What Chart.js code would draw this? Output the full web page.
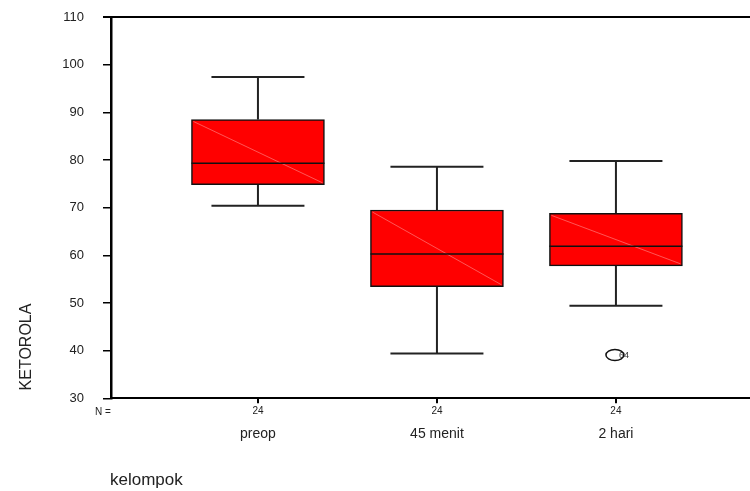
<!DOCTYPE html>
<html>
<head>
<meta charset="utf-8">
<script src="https://cdn.jsdelivr.net/npm/chart.js@4/dist/chart.umd.min.js"></script>
<style>
  body { margin: 0; background: #fff; }
  canvas { display: block; }
</style>
</head>
<body>
<canvas id="boxChart" width="750" height="491"></canvas>
<script>
// data
const categories = ['preop', '45 menit', '2 hari']
const counts = [24, 24, 24]
const whiskerLow = [70.4, 39.4, 49.4]
const q1 = [74.8, 53.4, 57.8]
const median = [79.3, 60.3, 61.9]
const q3 = [88.5, 69.5, 68.8]
const whiskerHigh = [97.4, 78.6, 79.8]
const outlierGroup = [2]
const outlierValue = [39.1]
const outlierCase = ['64']
const yTicks = [30, 40, 50, 60, 70, 80, 90, 100, 110]

const FONT = '"Liberation Sans", Arial, sans-serif'
const BOX_W = 133
const CAP_W = 93

const boxPlot = {
  id: 'boxPlot',
  beforeDatasetsDraw (chart) {
    const { ctx, scales: { x, y } } = chart
    ctx.save()
    ctx.strokeStyle = '#222'
    ctx.lineWidth = 2
    categories.forEach((c, i) => {
      const px = x.getPixelForValue(i + 1)
      ctx.beginPath()
      ctx.moveTo(px, y.getPixelForValue(q3[i]))
      ctx.lineTo(px, y.getPixelForValue(whiskerHigh[i]))
      ctx.moveTo(px, y.getPixelForValue(q1[i]))
      ctx.lineTo(px, y.getPixelForValue(whiskerLow[i]))
      ctx.moveTo(px - CAP_W / 2, y.getPixelForValue(whiskerHigh[i]))
      ctx.lineTo(px + CAP_W / 2, y.getPixelForValue(whiskerHigh[i]))
      ctx.moveTo(px - CAP_W / 2, y.getPixelForValue(whiskerLow[i]))
      ctx.lineTo(px + CAP_W / 2, y.getPixelForValue(whiskerLow[i]))
      ctx.stroke()
    })
    ctx.restore()
  },
  afterDatasetsDraw (chart) {
    const { ctx, scales: { x, y } } = chart
    ctx.save()
    categories.forEach((c, i) => {
      const px = x.getPixelForValue(i + 1)
      const l = px - BOX_W / 2
      const r = px + BOX_W / 2
      // faint diagonal inside the box
      ctx.strokeStyle = 'rgba(255,120,120,0.9)'
      ctx.lineWidth = 0.8
      ctx.beginPath()
      ctx.moveTo(l + 2, y.getPixelForValue(q3[i]) + 2)
      ctx.lineTo(r - 2, y.getPixelForValue(q1[i]) - 2)
      ctx.stroke()
      // median
      ctx.strokeStyle = '#111'
      ctx.lineWidth = 1.5
      ctx.beginPath()
      ctx.moveTo(l, y.getPixelForValue(median[i]))
      ctx.lineTo(r, y.getPixelForValue(median[i]))
      ctx.stroke()
    })
    // outliers
    outlierGroup.forEach((g, k) => {
      const px = x.getPixelForValue(g + 1)
      const py = y.getPixelForValue(outlierValue[k])
      ctx.fillStyle = '#333'
      ctx.font = '9px ' + FONT
      ctx.textAlign = 'left'
      ctx.textBaseline = 'middle'
      ctx.fillText(outlierCase[k], px + 3, py + 1)
      ctx.strokeStyle = '#111'
      ctx.lineWidth = 1.5
      ctx.beginPath()
      ctx.ellipse(px - 1, py, 9, 5.5, 0, 0, Math.PI * 2)
      ctx.stroke()
    })
    ctx.restore()
  },
  afterDraw (chart) {
    const { ctx, chartArea, scales: { x } } = chart
    ctx.save()
    // top frame line
    ctx.strokeStyle = '#000'
    ctx.lineWidth = 2
    ctx.beginPath()
    ctx.moveTo(103, chartArea.top)
    ctx.lineTo(chart.width, chartArea.top)
    ctx.stroke()

    ctx.fillStyle = '#222'
    ctx.textBaseline = 'middle'
    ctx.font = '10px ' + FONT
    ctx.textAlign = 'left'
    ctx.fillText('N =', 95, 412)

    ctx.font = '14px ' + FONT
    ctx.textAlign = 'center'
    categories.forEach((c, i) => {
      ctx.fillText(c, x.getPixelForValue(i + 1), 434)
    })

    ctx.font = '17px ' + FONT
    ctx.textAlign = 'left'
    ctx.fillText('kelompok', 110, 480)

    ctx.translate(27, 347)
    ctx.rotate(-Math.PI / 2)
    ctx.textAlign = 'center'
    ctx.font = '16px ' + FONT
    ctx.fillText('KETOROLA', 0, 0)
    ctx.restore()
  }
}

new Chart(document.getElementById('boxChart'), {
  type: 'bar',
  data: {
    datasets: [
      {
        data: categories.map((c, i) => ({ x: i + 1, y: [q1[i], q3[i]] })),
        backgroundColor: 'rgb(255, 0, 0)',
        borderColor: '#111',
        borderWidth: 1.5,
        borderSkipped: false,
        barThickness: BOX_W
      }
    ]
  },
  options: {
    responsive: false,
    animation: false,
    layout: { padding: { top: 17, right: 0, bottom: 0, left: 0 } },
    plugins: {
      legend: { display: false },
      tooltip: { enabled: false }
    },
    scales: {
      x: {
        type: 'linear',
        offset: false,
        min: 0.179,
        max: 3.749,
        afterBuildTicks: scale => {
          scale.ticks = counts.map((n, i) => ({ value: i + 1 }))
        },
        afterFit: scale => { scale.height = 92.7 },
        ticks: {
          callback: (v, i) => counts[i],
          font: { family: FONT, size: 10 },
          color: '#222',
          padding: 2,
          maxRotation: 0
        },
        grid: {
          offset: false,
          drawOnChartArea: false,
          tickLength: 5,
          color: '#000',
          lineWidth: 2
        },
        border: { color: '#000', width: 2 }
      },
      y: {
        min: 30,
        max: 110,
        afterBuildTicks: scale => {
          scale.ticks = yTicks.map(v => ({ value: v }))
        },
        afterFit: scale => {
          scale.width = 111
          scale.paddingTop = 8
          scale.paddingBottom = 8
        },
        ticks: {
          font: { family: FONT, size: 13 },
          color: '#222',
          padding: 19
        },
        grid: {
          drawOnChartArea: false,
          tickLength: 8,
          color: '#000',
          lineWidth: 1.5
        },
        border: { color: '#000', width: 2.5 }
      }
    }
  },
  plugins: [boxPlot]
})
</script>
</body>
</html>
